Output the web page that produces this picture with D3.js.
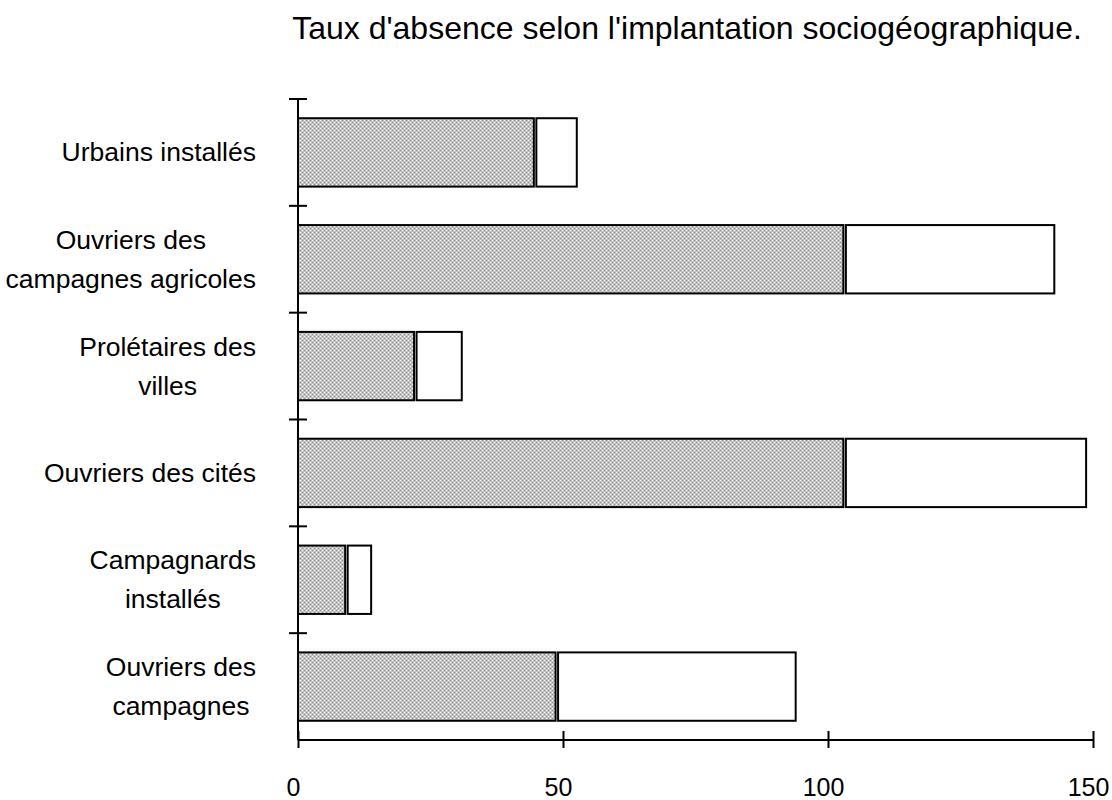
<!DOCTYPE html>
<html>
<head>
<meta charset="utf-8">
<script src="https://cdn.jsdelivr.net/npm/d3@7"></script>
<style>
body { margin: 0; background: #fff; }
text { font-family: "Liberation Sans", Arial, sans-serif; fill: #000; }
</style>
</head>
<body>
<svg id="mainsvg" width="1112" height="800"></svg>
<script>
// categories, top to bottom; "\n" marks a line break in the label
var categories = [
	'Urbains installés',
	'Ouvriers des\ncampagnes agricoles',
	'Prolétaires des\nvilles',
	'Ouvriers des cités',
	'Campagnards\ninstallés',
	'Ouvriers des\ncampagnes'
];
var shaded = [44.5, 102.9, 21.9, 102.9, 8.9, 48.6];   // grey part
var blank = [8.1, 39.8, 9.0, 45.8, 4.9, 45.3];        // white part
var xTicks = [0, 50, 100, 150];
var title = "Taux d'absence selon l'implantation sociogéographique.";

var svg = d3.select('#mainsvg');
var plotL = 298, plotR = 1093, plotT = 99, plotB = 740;

var x = d3.scaleLinear().domain([0, 150]).range([plotL, plotR]);
var y = d3.scaleBand().domain(d3.range(categories.length)).range([plotT, plotB]).paddingInner(0.36).paddingOuter(0.18);
var bandStep = (plotB - plotT) / categories.length;

// dotted grey fill
var defs = svg.append('defs');
var pat = defs.append('pattern')
	.attr('id', 'dots')
	.attr('patternUnits', 'userSpaceOnUse')
	.attr('width', 4).attr('height', 4);
pat.append('rect').attr('width', 4).attr('height', 4).attr('fill', '#c2c2c2');
pat.append('rect').attr('x', 0).attr('y', 0).attr('width', 1).attr('height', 1).attr('fill', '#ffffff');
pat.append('rect').attr('x', 2).attr('y', 2).attr('width', 1).attr('height', 1).attr('fill', '#ffffff');
pat.append('rect').attr('x', 2).attr('y', 0).attr('width', 1).attr('height', 1).attr('fill', '#909090');
pat.append('rect').attr('x', 0).attr('y', 2).attr('width', 1).attr('height', 1).attr('fill', '#909090');

svg.append('text')
	.attr('x', 687).attr('y', 39)
	.attr('text-anchor', 'middle')
	.style('font-size', '32px')
	.text(title);

var bars = svg.append('g');
bars.selectAll('.grey')
	.data(shaded)
	.enter()
	.append('rect')
	.attr('class', 'grey')
	.attr('x', x(0))
	.attr('y', function(d, i) {return y(i);})
	.attr('width', function(d) {return x(d) - x(0);})
	.attr('height', y.bandwidth())
	.attr('fill', 'url(#dots)')
	.attr('stroke', '#000')
	.attr('stroke-width', 2);

bars.selectAll('.white')
	.data(blank)
	.enter()
	.append('rect')
	.attr('class', 'white')
	.attr('x', function(d, i) {return x(shaded[i]) + 2.5;})
	.attr('y', function(d, i) {return y(i);})
	.attr('width', function(d, i) {return x(shaded[i] + d) - x(shaded[i]) - 2.5;})
	.attr('height', y.bandwidth())
	.attr('fill', '#fff')
	.attr('stroke', '#000')
	.attr('stroke-width', 2);

// x axis, ticks crossing the line
var xAxis = svg.append('g')
	.attr('transform', 'translate(0,' + plotB + ')')
	.call(d3.axisBottom(x).tickValues(xTicks).tickSize(8).tickPadding(30));
xAxis.select('.domain').attr('d', 'M' + plotL + ',0H' + plotR).attr('stroke-width', 2);
xAxis.selectAll('.tick line').attr('y1', -9).attr('y2', 8).attr('stroke-width', 2);
xAxis.selectAll('.tick text')
	.attr('dx', -5)
	.style('font-size', '25px')
	.style('font-family', '"Liberation Sans", Arial, sans-serif');

// y axis, ticks at band edges
var yAxis = svg.append('g');
yAxis.append('line')
	.attr('x1', plotL).attr('x2', plotL)
	.attr('y1', plotT).attr('y2', plotB)
	.attr('stroke', '#000').attr('stroke-width', 2);
yAxis.selectAll('.ytick')
	.data(d3.range(categories.length))
	.enter()
	.append('line')
	.attr('x1', plotL - 9).attr('x2', plotL + 9)
	.attr('y1', function(d) {return plotT + d * bandStep;})
	.attr('y2', function(d) {return plotT + d * bandStep;})
	.attr('stroke', '#000').attr('stroke-width', 2);

// labels: lines centred inside a block that ends near the axis
var labelRight = 256, lineH = 39;
categories.forEach(function(c, i) {
	var lines = c.split('\n');
	var g = svg.append('g');
	var cy = y(i) + y.bandwidth() / 2;
	var texts = lines.map(function(l, k) {
		return g.append('text')
			.attr('y', cy + (k - (lines.length - 1) / 2) * lineH + 9)
			.attr('text-anchor', 'middle')
			.style('font-size', '26.5px')
			.text(l);
	});
	var w = d3.max(texts, function(t) {return t.node().getComputedTextLength();});
	texts.forEach(function(t) {t.attr('x', labelRight - w / 2);});
});
</script>
</body>
</html>
